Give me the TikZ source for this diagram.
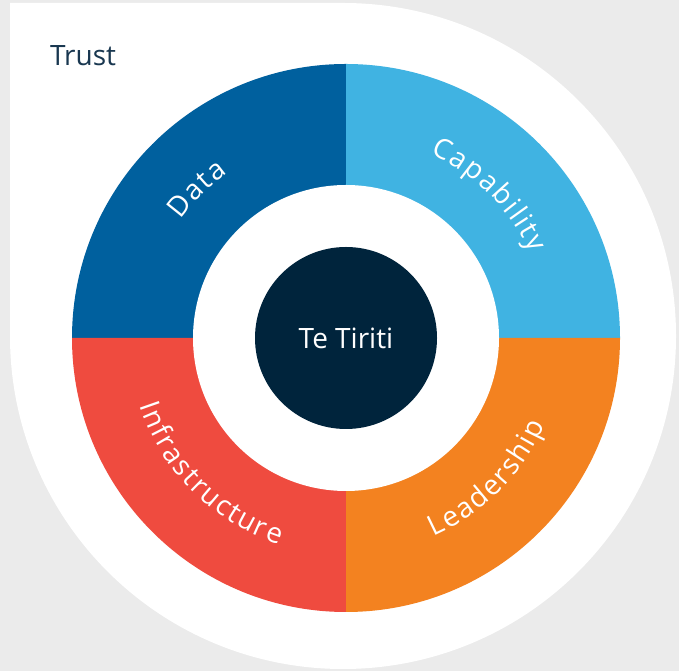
\documentclass[tikz,border=0pt]{standalone}
\usepackage{fontspec}
\setmainfont{Open Sans}
\usetikzlibrary{decorations.text}
\definecolor{pagegrey}{RGB}{235,235,235}
\definecolor{datablue}{RGB}{0,96,158}
\definecolor{capblue}{RGB}{64,179,226}
\definecolor{infred}{RGB}{239,75,63}
\definecolor{leadorange}{RGB}{243,130,32}
\definecolor{tiritinavy}{RGB}{0,36,60}
\definecolor{trustnavy}{RGB}{25,55,80}
\newcommand{\ringfont}{\fontsize{28}{32}\selectfont\color{white}}

\begin{document}
\begin{tikzpicture}[x=1pt,y=1pt,
  ringlabel/.style={decorate,decoration={text along path,text align=center,text={#1}}}]
\fill[pagegrey] (0,0) rectangle (679,671);
\useasboundingbox (0,0) rectangle (679,671);
\fill[white] (10,335) -- (10,668) -- (343,668) arc[start angle=90,end angle=-180,radius=333pt] -- cycle;

\coordinate (c) at (346,333);
\foreach \a/\col in {90/datablue,0/capblue,180/infred,270/leadorange}
  \fill[\col] (c) -- ++(\a:274pt) arc[start angle=\a,delta angle=90,radius=274pt] -- cycle;
\fill[white] (c) circle[radius=153pt];

\node[circle,fill=tiritinavy,minimum size=182pt,text=white,font=\fontsize{28}{32}\selectfont] (tiriti) at (c) {Te Tiriti};
\node[text=trustnavy,font=\fontsize{28}{32}\selectfont] (trust) at (83,615) {Trust};

\path[ringlabel={|\ringfont|{D\kern1.8pt}{a\kern1.8pt}{t\kern1.8pt}a}] ([shift={(180:203pt)}]c) arc[start angle=180,end angle=90,radius=203pt];
\path[ringlabel={|\ringfont|{C\kern1.8pt}{a\kern1.8pt}{p\kern1.8pt}{a\kern1.8pt}{b\kern1.8pt}{i\kern1.8pt}{l\kern1.8pt}{i\kern1.8pt}{t\kern1.8pt}y}] ([shift={(90:203pt)}]c) arc[start angle=90,end angle=0,radius=203pt];
\path[ringlabel={|\ringfont|{I\kern1.8pt}{n\kern1.8pt}{f\kern1.8pt}{r\kern1.8pt}{a\kern1.8pt}{s\kern1.8pt}{t\kern1.8pt}{r\kern1.8pt}{u\kern1.8pt}{c\kern1.8pt}{t\kern1.8pt}{u\kern1.8pt}{r\kern1.8pt}e}] ([shift={(180:217pt)}]c) arc[start angle=180,end angle=270,radius=217pt];
\path[ringlabel={|\ringfont|{L\kern1.8pt}{e\kern1.8pt}{a\kern1.8pt}{d\kern1.8pt}{e\kern1.8pt}{r\kern1.8pt}{s\kern1.8pt}{h\kern1.8pt}{i\kern1.8pt}p}] ([shift={(270:217pt)}]c) arc[start angle=270,end angle=360,radius=217pt];
\end{tikzpicture}
\end{document}
